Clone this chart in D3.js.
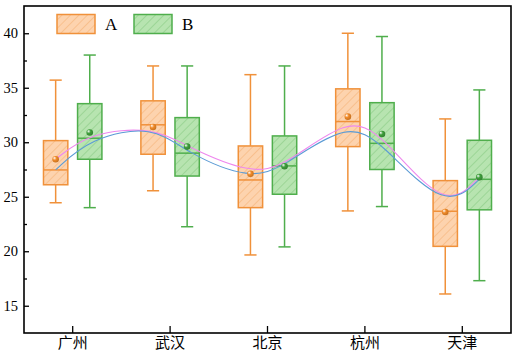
<!DOCTYPE html>
<html><head><meta charset="utf-8">
<script src="https://cdn.jsdelivr.net/npm/d3@7"></script>
<style>body{margin:0;background:#fff}svg{display:block}</style>
</head><body>
<svg id="c" width="520" height="357"></svg>
<script>
const categories = ['广州','武汉','北京','杭州','天津'];
const seriesNames = ['A','B'];
const A_low    = [24.45, 25.55, 19.66, 23.7, 16.08];
const A_q1     = [26.1, 28.9, 24.0, 29.6, 20.45];
const A_median = [27.46, 31.6, 26.54, 31.9, 23.67];
const A_q3     = [30.15, 33.8, 29.66, 34.9, 26.48];
const A_high   = [35.7, 37.0, 36.2, 40.0, 32.14];
const A_mean   = [28.44, 31.4, 27.1, 32.35, 23.6];
const B_low    = [24.0, 22.25, 20.4, 24.1, 17.3];
const B_q1     = [28.44, 26.9, 25.23, 27.5, 23.8];
const B_median = [30.37, 29.0, 27.83, 29.9, 26.6];
const B_q3     = [33.54, 32.26, 30.58, 33.63, 30.18];
const B_high   = [38.0, 37.0, 37.0, 39.7, 34.8];
const B_mean   = [30.9, 29.6, 27.8, 30.76, 26.8];
const yMajorTicks = [15, 20, 25, 30, 35, 40];
const yMinorTicks = [17.5, 22.5, 27.5, 32.5, 37.5];

const seriesData = {
  A: {low:A_low,q1:A_q1,median:A_median,q3:A_q3,high:A_high,mean:A_mean},
  B: {low:B_low,q1:B_q1,median:B_median,q3:B_q3,high:B_high,mean:B_mean}
};
const styles = {
  A: {stroke:'#F0913A', fill:'#FDD3AE', hatch:'#F3A865', dot:'#F08A28'},
  B: {stroke:'#4FAE4C', fill:'#B7E4B0', hatch:'#7CC476', dot:'#3E9E3B'}
};

const svg = d3.select('#c');
const L = 24, R = 511, T = 6, B = 333;
const x = d3.scaleBand().domain(categories).range([L, R]).padding(0);
const bw = x.bandwidth();
const y = d3.scaleLinear().domain([12.5, 42.5]).range([B, T]);
const off = {A: -0.175 * bw, B: 0.175 * bw};
const boxW = 0.25 * bw;
const cx = (c, s) => x(c) + bw / 2 + off[s];

const defs = svg.append('defs');
seriesNames.forEach(s => {
  const p = defs.append('pattern').attr('id', 'h' + s).attr('patternUnits', 'userSpaceOnUse')
    .attr('width', 6).attr('height', 6).attr('patternTransform', 'rotate(45)');
  p.append('rect').attr('width', 6).attr('height', 6).attr('fill', styles[s].fill);
  p.append('line').attr('x1', 0).attr('y1', 0).attr('x2', 0).attr('y2', 6)
    .attr('stroke', styles[s].hatch).attr('stroke-width', 0.9);
  const g = defs.append('radialGradient').attr('id', 'g' + s).attr('cx', '40%').attr('cy', '40%')
    .attr('fx', '30%').attr('fy', '30%').attr('r', '65%');
  g.append('stop').attr('offset', '0%').attr('stop-color', '#ffffff');
  g.append('stop').attr('offset', '45%').attr('stop-color', styles[s].dot);
  g.append('stop').attr('offset', '100%').attr('stop-color', d3.color(styles[s].dot).darker(0.6));
});

// boxes
seriesNames.forEach(s => {
  const d = seriesData[s], st = styles[s];
  const g = svg.append('g');
  categories.forEach((c, i) => {
    const xc = cx(c, s);
    g.append('line').attr('x1', xc).attr('x2', xc).attr('y1', y(d.high[i])).attr('y2', y(d.q3[i]))
      .attr('stroke', st.stroke).attr('stroke-width', 1.5);
    g.append('line').attr('x1', xc).attr('x2', xc).attr('y1', y(d.q1[i])).attr('y2', y(d.low[i]))
      .attr('stroke', st.stroke).attr('stroke-width', 1.5);
    [d.high[i], d.low[i]].forEach(v => {
      g.append('line').attr('x1', xc - boxW / 4).attr('x2', xc + boxW / 4).attr('y1', y(v)).attr('y2', y(v))
        .attr('stroke', st.stroke).attr('stroke-width', 1.5);
    });
    g.append('rect').attr('x', xc - boxW / 2).attr('width', boxW)
      .attr('y', y(d.q3[i])).attr('height', y(d.q1[i]) - y(d.q3[i]))
      .attr('fill', 'url(#h' + s + ')').attr('stroke', st.stroke).attr('stroke-width', 1.5);
    g.append('line').attr('x1', xc - boxW / 2).attr('x2', xc + boxW / 2)
      .attr('y1', y(d.median[i])).attr('y2', y(d.median[i]))
      .attr('stroke', st.stroke).attr('stroke-width', 1.5);
  });
});

// smooth lines through medians (blue) and means (pink)
const pts = key => {
  const arr = [];
  categories.forEach((c, i) => seriesNames.forEach(s => arr.push([cx(c, s), y(seriesData[s][key][i])])));
  return arr;
};
const line = d3.line().curve(d3.curveBasis);
svg.append('path').attr('d', line(pts('mean'))).attr('fill', 'none').attr('stroke', '#EE88EE').attr('stroke-width', 1.1);
svg.append('path').attr('d', line(pts('median'))).attr('fill', 'none').attr('stroke', '#5B9BD5').attr('stroke-width', 1.1);

// mean dots
seriesNames.forEach(s => {
  categories.forEach((c, i) => {
    svg.append('circle').attr('cx', cx(c, s)).attr('cy', y(seriesData[s].mean[i])).attr('r', 3.3)
      .attr('fill', 'url(#g' + s + ')');
  });
});

// axes
const font = '"Liberation Serif","Times New Roman",serif';
const ya = svg.append('g').attr('transform', `translate(${L},0)`)
  .call(d3.axisLeft(y).tickValues(yMajorTicks).tickSizeInner(-5).tickSizeOuter(0).tickPadding(6));
ya.select('.domain').remove();
ya.selectAll('line').attr('stroke', '#000').attr('stroke-width', 1.3);
ya.selectAll('text').attr('font-family', font).attr('font-size', 14.5).attr('fill', '#000');
const ym = svg.append('g').attr('transform', `translate(${L},0)`)
  .call(d3.axisLeft(y).tickValues(yMinorTicks).tickSizeInner(-3).tickSizeOuter(0).tickFormat(''));
ym.select('.domain').remove();
ym.selectAll('line').attr('stroke', '#000').attr('stroke-width', 1.3);

const xa = svg.append('g').attr('transform', `translate(0,${B})`)
  .call(d3.axisBottom(x).tickSizeInner(-7).tickSizeOuter(0).tickPadding(4));
xa.select('.domain').remove();
xa.selectAll('line').attr('stroke', '#000').attr('stroke-width', 1.3);
xa.selectAll('text').attr('font-family', '"Noto Sans CJK SC",sans-serif').attr('font-size', 15).attr('fill', '#000');

svg.append('rect').attr('x', L).attr('y', T).attr('width', R - L).attr('height', B - T)
  .attr('fill', 'none').attr('stroke', '#000').attr('stroke-width', 1.6);

// legend
const lg = svg.append('g');
seriesNames.forEach((s, i) => {
  const lx = 57 + i * 77;
  lg.append('rect').attr('x', lx).attr('y', 14.5).attr('width', 38).attr('height', 19)
    .attr('fill', 'url(#h' + s + ')').attr('stroke', styles[s].stroke).attr('stroke-width', 1.5);
  lg.append('text').attr('x', lx + 48).attr('y', 30).text(s)
    .attr('font-family', font).attr('font-size', 17).attr('fill', '#000');
});
</script>
</body></html>
